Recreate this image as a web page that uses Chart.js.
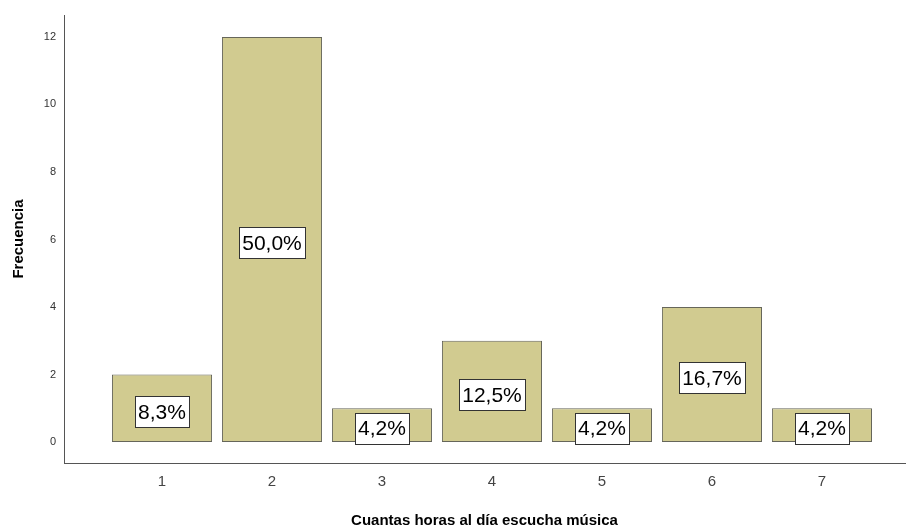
<!DOCTYPE html>
<html>
<head>
<meta charset="utf-8">
<script src="https://cdn.jsdelivr.net/npm/chart.js@4/dist/chart.umd.min.js"></script>
<style>
  html, body { margin: 0; padding: 0; background: #fff; }
  #wrap { width: 907px; height: 527px; position: relative; }
</style>
</head>
<body>
<div id="wrap"><canvas id="barChart"></canvas></div>
<script>
// Values
const hours = [1, 2, 3, 4, 5, 6, 7];
const counts = [2, 12, 1, 3, 1, 4, 1];
const pctLabels = ['8,3%', '50,0%', '4,2%', '12,5%', '4,2%', '16,7%', '4,2%'];
const yTicks = [0, 2, 4, 6, 8, 10, 12];

const FONT = '"Liberation Sans", Arial, sans-serif';

// white boxed percentage in the middle of each bar
const boxLabels = {
    id: 'boxLabels',
    afterDatasetsDraw(chart) {
        const ctx = chart.ctx;
        const meta = chart.getDatasetMeta(0);
        ctx.save();
        ctx.font = '21px ' + FONT;
        ctx.textAlign = 'center';
        ctx.textBaseline = 'middle';
        meta.data.forEach((bar, i) => {
            const txt = pctLabels[i];
            const cx = bar.x;
            const cy = (bar.y + bar.base) / 2 + 3;
            const w = Math.round(ctx.measureText(txt).width + 6);
            const h = 31;
            const x0 = Math.round(cx - w / 2) + 0.5;
            const y0 = Math.round(cy - h / 2) + 0.5;
            ctx.fillStyle = '#ffffff';
            ctx.fillRect(x0, y0, w, h);
            ctx.strokeStyle = '#333333';
            ctx.lineWidth = 1;
            ctx.strokeRect(x0, y0, w, h);
            ctx.fillStyle = '#000000';
            ctx.fillText(txt, cx, cy + 1.5);
        });
        ctx.restore();
    }
};

const ctx = document.getElementById('barChart').getContext('2d');
new Chart(ctx, {
    type: 'bar',
    data: {
        datasets: [{
            data: hours.map((h, i) => ({ x: h, y: counts[i] })),
            backgroundColor: '#d1cb90',
            borderColor: '#66665a',
            borderWidth: 1,
            borderSkipped: false,
            barPercentage: 0.91,
            categoryPercentage: 1
        }]
    },
    options: {
        responsive: true,
        maintainAspectRatio: false,
        animation: false,
        layout: { padding: { top: 15, right: 2, left: 0, bottom: 0 } },
        plugins: {
            legend: { display: false },
            tooltip: { enabled: false }
        },
        scales: {
            x: {
                type: 'linear',
                offset: false,
                min: 0.109,
                max: 7.755,
                afterBuildTicks: s => { s.ticks = hours.map(v => ({ value: v })); },
                afterFit: s => { s.height = 64; },
                grid: { display: false, drawTicks: false },
                border: { color: '#555555', width: 1 },
                ticks: { color: '#444444', font: { family: FONT, size: 15 }, padding: 10 },
                title: {
                    display: true,
                    text: 'Cuantas horas al día escucha música',
                    color: '#000000',
                    font: { family: FONT, size: 15, weight: 'bold' },
                    padding: { top: 0, bottom: -3 }
                }
            },
            y: {
                min: -0.62,
                max: 12.65,
                afterBuildTicks: s => { s.ticks = yTicks.map(v => ({ value: v })); },
                afterFit: s => { s.width = 64; },
                grid: { display: false, drawTicks: false },
                border: { color: '#555555', width: 1 },
                ticks: { color: '#333333', font: { family: FONT, size: 11 }, padding: 8 },
                title: {
                    display: true,
                    text: 'Frecuencia',
                    color: '#000000',
                    font: { family: FONT, size: 15, weight: 'bold' },
                    padding: { top: 10, bottom: 0 }
                }
            }
        }
    },
    plugins: [boxLabels]
});
</script>
</body>
</html>
